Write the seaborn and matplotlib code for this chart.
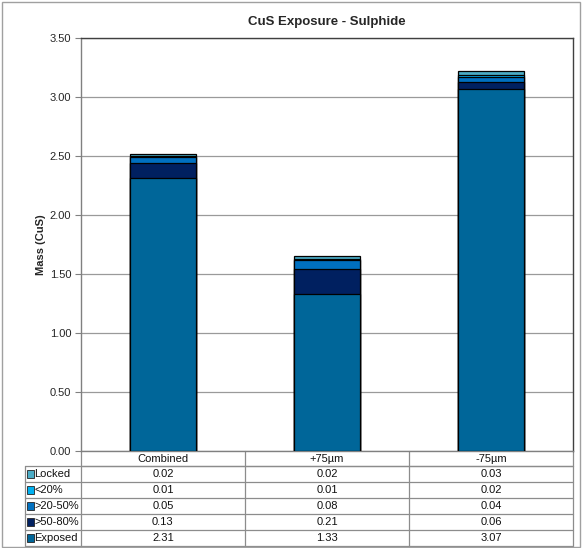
import matplotlib.pyplot as plt
import numpy as np
import pandas as pd
import seaborn as sns
from matplotlib.lines import Line2D
from matplotlib.patches import Rectangle

categories = ["Combined", "+75µm", "-75µm"]
# stacked from bottom to top
series_names = ["Exposed", ">50-80%", ">20-50%", "<20%", "Locked"]
exposed = [2.31, 1.33, 3.07]
mid_high = [0.13, 0.21, 0.06]
mid_low = [0.05, 0.08, 0.04]
low = [0.01, 0.01, 0.02]
locked = [0.02, 0.02, 0.03]
colors = ["#006699", "#002060", "#0070C0", "#00B0F0", "#4BACC6"]

FS = 8

sns.set_theme(style="white")
plt.rcParams["font.family"] = ["Liberation Sans", "DejaVu Sans"]

values = np.array([exposed, mid_high, mid_low, low, locked])
cum = values.cumsum(axis=0)

fig = plt.figure(figsize=(5.82, 5.48), dpi=100)
ax = fig.add_axes([0.139, 0.177, 0.8455, 0.7537])

# draw cumulative totals from the top layer down so lower layers sit in front
for i in range(len(series_names) - 1, -1, -1):
    df = pd.DataFrame({"category": categories, "mass": cum[i]})
    sns.barplot(data=df, x="category", y="mass", order=categories, color=colors[i],
                saturation=1, width=0.4, edgecolor="black", linewidth=0.9, ax=ax, zorder=3)

ax.set_xlim(-0.5, 2.5)
ax.set_ylim(0, 3.5)
yt = np.arange(0, 3.51, 0.5)
ax.set_yticks(yt)
ax.set_yticklabels([f"{v:.2f}" for v in yt], fontsize=FS)
ax.set_xticks([])
ax.set_xlabel("")
ax.set_ylabel("Mass (CuS)", fontsize=FS, fontweight="bold", labelpad=3)
ax.tick_params(axis="y", length=4, width=0.8, color="#808080", left=True, pad=3)
ax.yaxis.grid(True, color="#9a9a9a", linewidth=0.9, zorder=0)
ax.set_axisbelow(True)
for side in ["left", "bottom"]:
    ax.spines[side].set_color("#808080")
for side in ["top", "right"]:
    ax.spines[side].set_color("#404040")
for s in ax.spines.values():
    s.set_linewidth(1)
ax.set_title("CuS Exposure - Sulphide", fontsize=9.5, fontweight="bold", pad=9)

# data table with legend keys, drawn under the axes
row_order = ["Locked", "<20%", ">20-50%", ">50-80%", "Exposed"]
lab_x0 = -56 / 493
head_h = 15 / 413
row_h = 16 / 413
bottom = -head_h - row_h * len(row_order)
grid = dict(color="#8c8c8c", linewidth=0.9, transform=ax.transAxes, clip_on=False)

# horizontal lines
ax.add_line(Line2D([0, 1], [-head_h, -head_h], **grid))
for k in range(len(row_order) + 1):
    y = -head_h - k * row_h
    ax.add_line(Line2D([lab_x0, 1], [y, y], **grid))
# vertical lines
ax.add_line(Line2D([lab_x0, lab_x0], [-head_h, bottom], **grid))
for j in range(len(categories) + 1):
    x = j / len(categories)
    ax.add_line(Line2D([x, x], [0, bottom], **grid))

for j, cat in enumerate(categories):
    xc = (j + 0.5) / len(categories)
    ax.text(xc, -head_h / 2, cat, transform=ax.transAxes, ha="center", va="center",
            fontsize=FS, color="#111111")
    for k, r in enumerate(row_order):
        yc = -head_h - (k + 0.5) * row_h
        v = values[series_names.index(r)][j]
        ax.text(xc, yc, f"{v:.2f}", transform=ax.transAxes, ha="center", va="center",
                fontsize=FS, color="#111111")

for k, r in enumerate(row_order):
    yc = -head_h - (k + 0.5) * row_h
    ax.add_patch(Rectangle((lab_x0 + 0.005, yc - 0.0085), 0.0135, 0.017, transform=ax.transAxes,
                           facecolor=colors[series_names.index(r)], edgecolor="#222222",
                           linewidth=0.6, clip_on=False, zorder=5))
    ax.text(lab_x0 + 0.019, yc, r, transform=ax.transAxes, ha="left", va="center",
            fontsize=FS, color="#111111")

fig.patches.append(Rectangle((0.003, 0.001), 0.994, 0.996, transform=fig.transFigure,
                             fill=False, edgecolor="#a0a0a0", linewidth=1))

fig.savefig("out.png", dpi=100)
